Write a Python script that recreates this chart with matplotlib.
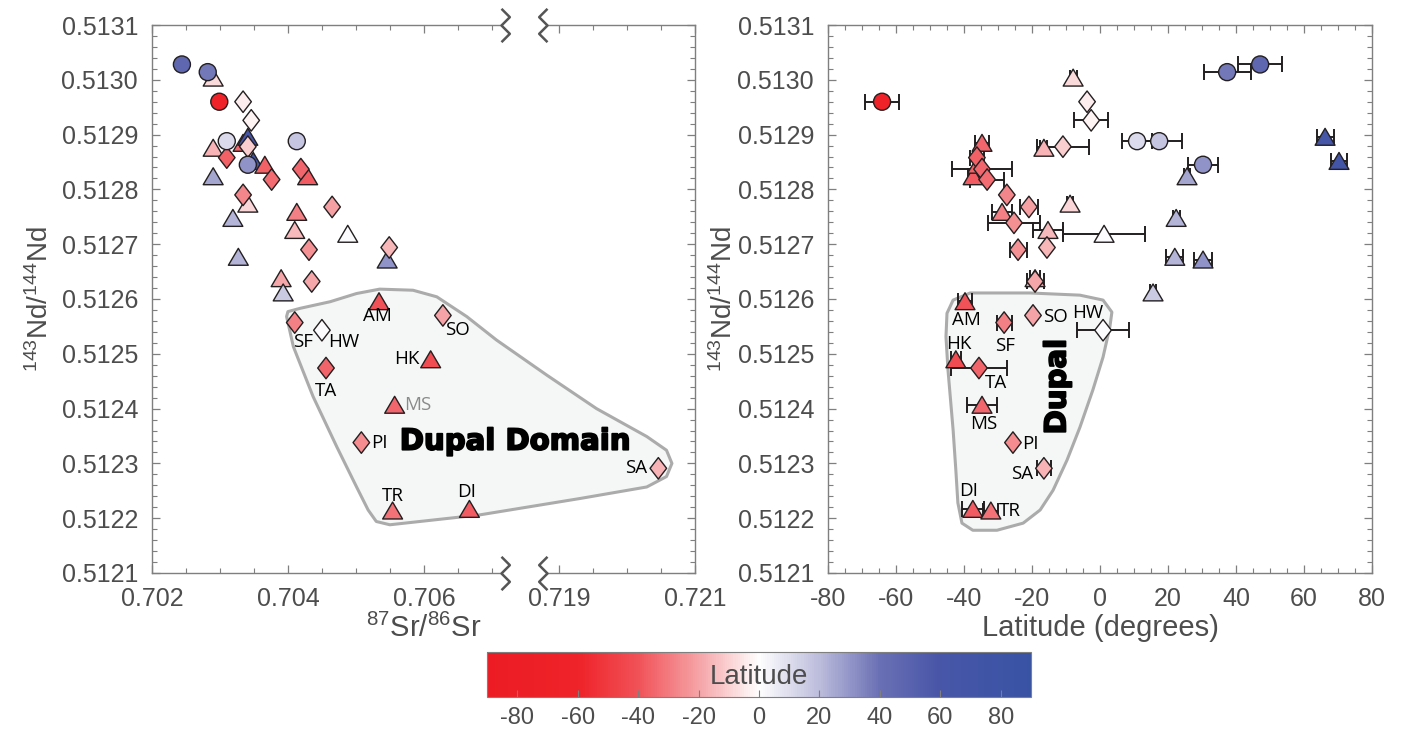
import numpy as np
import matplotlib
matplotlib.use("Agg")
import matplotlib.pyplot as plt
import matplotlib.patheffects as pe
from matplotlib.colors import LinearSegmentedColormap, Normalize
from matplotlib.cm import ScalarMappable
from matplotlib.path import Path
from matplotlib.patches import Polygon
from matplotlib.ticker import MultipleLocator, FormatStrFormatter

plt.rcParams['font.family'] = 'Liberation Sans'
plt.rcParams['mathtext.fontset'] = 'custom'
plt.rcParams['mathtext.rm'] = 'Liberation Sans'
plt.rcParams['mathtext.it'] = 'Liberation Sans:italic'
plt.rcParams['axes.unicode_minus'] = False

# --- data: latitude (deg), latitude error, 87Sr/86Sr, 143Nd/144Nd ---
circ_lat = [47.1, 37.4, -64.1, 10.9, 17.4, 30.3]
circ_err = [6.4, 6.9, 5.1, 4.4, 6.8, 4.3]
circ_sr = [0.70244, 0.70282, 0.70299, 0.70310, 0.70413, 0.70341]
circ_nd = [0.513028, 0.513014, 0.512960, 0.512888, 0.512888, 0.512845]

tri_lat = [-7.9, -34.7, -37.3, -28.8, -16.5, -8.8, -15.3, 1.2, -19.1, 15.6, 25.6,
           22.4, 22.0, 30.3, 66.2, 70.3, -36.0, -39.7, -42.4, -34.7, -37.4, -32.1]
tri_err = [1.0, 2.0, 1.5, 3.0, 1.0, 1.0, 4.4, 12.0, 1.5, 1.0, 1.0,
           1.0, 2.5, 2.6, 2.5, 2.4, 0.0, 2.0, 1.5, 4.4, 3.2, 2.2]
tri_sr = [0.70290, 0.70334, 0.70429, 0.70413, 0.70290, 0.70341, 0.70410, 0.70488, 0.70390, 0.70393, 0.70290,
          0.70319, 0.70327, 0.70546, 0.70341, 0.70349, 0.70366, 0.70534, 0.70610, 0.70557, 0.70667, 0.70554]
tri_nd = [0.513004, 0.512885, 0.512824, 0.512759, 0.512876, 0.512774, 0.512726, 0.512719, 0.512638, 0.512612, 0.512824,
          0.512748, 0.512677, 0.512672, 0.512896, 0.512852, 0.512845, 0.512596, 0.512490, 0.512407, 0.512217, 0.512214]
tri_label = [''] * 17 + ['AM', 'HK', 'MS', 'DI', 'TR']

dia_lat = [-3.8, -2.6, -10.9, -36.2, -34.7, -33.2, -27.4, -20.9, -25.3, -24.1, -15.6, -19.1,
           -28.2, -19.7, 0.9, -35.6, -25.6, -16.5]
dia_err = [0.0, 4.9, 7.6, 2.0, 8.8, 5.0, 0.0, 2.6, 7.6, 2.5, 0.0, 2.5,
           2.2, 0.0, 7.6, 8.2, 0.0, 2.0]
dia_sr = [0.70334, 0.70346, 0.70341, 0.70310, 0.70419, 0.70376, 0.70334, 0.70465, np.nan, 0.70431, 0.70549, 0.70435,
          0.70410, 0.70628, 0.70450, 0.70456, 0.70508, 0.72046]
dia_nd = [0.512960, 0.512926, 0.512878, 0.512858, 0.512837, 0.512818, 0.512790, 0.512768, 0.512739, 0.512690, 0.512694, 0.512632,
          0.512557, 0.512570, 0.512543, 0.512474, 0.512338, 0.512291]
dia_label = [''] * 12 + ['SF', 'SO', 'HW', 'TA', 'PI', 'SA']

# Dupal outline, Sr-Nd space
dupal_sr = [0.70400, 0.70418, 0.70462, 0.70501, 0.70535, 0.70584, 0.70619, 0.70663, 0.70707, 0.71882,
            0.71955, 0.72029, 0.72058, 0.72066, 0.72058, 0.72029, 0.71931, 0.70682, 0.70550, 0.70530,
            0.70518, 0.70501, 0.70472, 0.70437, 0.70408, 0.70398]
dupal_nd = [0.512577, 0.512583, 0.512595, 0.512610, 0.512618, 0.512616, 0.512604, 0.512568, 0.512525, 0.512461,
            0.512400, 0.512349, 0.512324, 0.512300, 0.512276, 0.512257, 0.512236, 0.512206, 0.512188, 0.512194,
            0.512215, 0.512257, 0.512330, 0.512422, 0.512513, 0.512568]
# Dupal outline, latitude-Nd space
dupal_lat = [-45.0, -43.2, -38.2, -20.6, -5.9, 0.9, 3.5, 2.9, 0.9, -2.1, -5.9, -9.7, -13.8, -17.6,
             -22.6, -30.3, -37.4, -40.6, -41.8, -42.4, -43.2, -44.7, -45.3]
dupal_lnd = [0.512574, 0.512598, 0.512611, 0.512611, 0.512607, 0.512598, 0.512576, 0.512549, 0.512494, 0.512434,
             0.512366, 0.512306, 0.512251, 0.512215, 0.512191, 0.512178, 0.512178, 0.512191, 0.512228, 0.512288,
             0.512361, 0.512470, 0.512531]

TEXT = '#4d4d4d'
SPINE = '#7f7f7f'
EDGE = '#231f20'

cmap = LinearSegmentedColormap.from_list('lat', [
    (0.0, '#ED1C24'), (30 / 180, '#EE2329'), (50 / 180, '#F05258'), (70 / 180, '#F5A3A6'),
    (0.5, '#FFFFFF'), (110 / 180, '#BCBCDC'), (130 / 180, '#6A70B4'), (150 / 180, '#4856A8'),
    (1.0, '#3953A4')])
norm = Normalize(-90, 90)

tv = [(0, 0.85), (-1, -0.85), (1, -0.85)]
TRI = Path(tv + [tv[0]], closed=True)
dv = [(0, 1), (0.77, 0), (0, -1), (-0.77, 0)]
DIA = Path(dv + [dv[0]], closed=True)
ZIG_L = Path([(0, 2), (1, 1), (0, 0), (1, -1), (0, -2)])
ZIG_R = Path([(0, 2), (-1, 1), (0, 0), (-1, -1), (0, -2)])

# broken Sr axis
brk_lo, brk_hi, gap = 0.70713, 0.71882, 0.00068


def fwd(x):
    x = np.asarray(x, float)
    return np.where(x <= brk_lo, x,
                    np.where(x >= brk_hi, x - (brk_hi - brk_lo) + gap,
                             brk_lo + (x - brk_lo) * gap / (brk_hi - brk_lo)))


def inv(u):
    u = np.asarray(u, float)
    return np.where(u <= brk_lo, u,
                    np.where(u >= brk_lo + gap, u + (brk_hi - brk_lo) - gap,
                             brk_lo + (u - brk_lo) * (brk_hi - brk_lo) / gap))


fig = plt.figure(figsize=(14.01, 7.29), dpi=100)
ax1 = fig.add_axes([0.1085, 0.214, 0.3876, 0.7517])
ax2 = fig.add_axes([0.591, 0.214, 0.3883, 0.7517])

nd_label = r'$^{143}\mathrm{Nd/}^{144}\mathrm{Nd}$'
heavy = [pe.withStroke(linewidth=1.3, foreground='black')]


def style_y(ax):
    ax.set_ylim(0.5121, 0.5131)
    ax.yaxis.set_major_locator(MultipleLocator(0.0001))
    ax.yaxis.set_minor_locator(MultipleLocator(0.00002))
    ax.yaxis.set_major_formatter(FormatStrFormatter('%.4f'))
    ax.tick_params(which='both', direction='in', top=True, right=True, colors=SPINE,
                   labelcolor=TEXT, labelsize=18)
    ax.tick_params(axis='y', pad=10)
    ax.tick_params(axis='x', pad=10)
    ax.tick_params(which='major', length=6, width=0.9)
    ax.tick_params(which='minor', length=3.5, width=0.8)
    for s in ax.spines.values():
        s.set_color(SPINE)
        s.set_linewidth(1.0)
    ax.set_ylabel(nd_label, fontsize=20, color=TEXT)


def draw_markers(ax, xc, xt, xd):
    ax.scatter(xt, tri_nd, s=205, c=tri_lat, cmap=cmap, norm=norm, marker=TRI,
               edgecolors=EDGE, linewidths=1.0, zorder=3)
    ax.scatter(xd, dia_nd, s=240, c=dia_lat, cmap=cmap, norm=norm, marker=DIA,
               edgecolors=EDGE, linewidths=1.0, zorder=4)
    ax.scatter(xc, circ_nd, s=150, c=circ_lat, cmap=cmap, norm=norm, marker='o',
               edgecolors=EDGE, linewidths=1.0, zorder=5)


# ---------------- left panel: Sr vs Nd ----------------
ax1.set_xscale('function', functions=(fwd, inv))
ax1.set_xlim(0.702, 0.721)
ax1.set_xticks([0.702, 0.704, 0.706, 0.719, 0.721])
ax1.set_xticklabels(['0.702', '0.704', '0.706', '0.719', '0.721'])
ax1.set_xticks([0.7025, 0.703, 0.7035, 0.7045, 0.705, 0.7055, 0.7065, 0.707,
                0.7195, 0.720, 0.7205], minor=True)
style_y(ax1)
ax1.yaxis.set_label_coords(-0.18, 0.5)
ax1.set_xlabel(r'$^{87}\mathrm{Sr/}^{86}\mathrm{Sr}$', fontsize=21, color=TEXT)
ax1.xaxis.set_label_coords(0.5, -0.075)

ax1.spines['top'].set_visible(False)
ax1.spines['bottom'].set_visible(False)
xt = ax1.get_xaxis_transform()
for yy in (0, 1):
    ax1.plot([0.702, brk_lo], [yy, yy], transform=xt, color=SPINE, lw=1.0, clip_on=False, zorder=6)
    ax1.plot([brk_hi, 0.721], [yy, yy], transform=xt, color=SPINE, lw=1.0, clip_on=False, zorder=6)
    ax1.plot([brk_lo], [yy], transform=xt, marker=ZIG_L, ms=24, mfc='none', mec='#555555',
             mew=1.8, ls='none', clip_on=False, zorder=6)
    ax1.plot([brk_hi], [yy], transform=xt, marker=ZIG_R, ms=24, mfc='none', mec='#555555',
             mew=1.8, ls='none', clip_on=False, zorder=6)

ax1.add_patch(Polygon(np.column_stack([dupal_sr, dupal_nd]), closed=True, facecolor='#F5F7F7',
                      edgecolor='#ABABAB', lw=2.2, joinstyle='round', zorder=1))
ax1.text(0.6685, 0.2396, 'Dupal Domain', transform=ax1.transAxes, ha='center', va='center',
         fontsize=21, fontweight='bold', family='DejaVu Sans', color='black', zorder=2,
         path_effects=heavy)
draw_markers(ax1, circ_sr, tri_sr, dia_sr)

left_off = {'AM': (-2, -15), 'SF': (8, -19), 'HW': (22, -12), 'SO': (15, -15), 'HK': (-24, 0),
            'TA': (0, -23), 'MS': (23, 0), 'PI': (18, 0), 'SA': (-22, 0), 'TR': (0, 15), 'DI': (-3, 17)}
right_off = {'AM': (1, -19), 'SF': (1, -23), 'SO': (22, -2), 'HW': (-15, 17), 'HK': (3, 15),
             'TA': (17, -15), 'MS': (2, -19), 'PI': (17, -1), 'SA': (-22, -6), 'DI': (-4, 18), 'TR': (19, 0)}

for labs, sr, lat, nd in ((tri_label, tri_sr, tri_lat, tri_nd), (dia_label, dia_sr, dia_lat, dia_nd)):
    for lab, s, la, n in zip(labs, sr, lat, nd):
        if not lab:
            continue
        dx, dy = left_off[lab]
        ax1.annotate(lab, (s, n), xytext=(dx * 0.72, dy * 0.72), textcoords='offset points',
                     ha='center', va='center', fontsize=13.5, family='Open Sans',
                     color='#8a8a8a' if lab == 'MS' else 'black', zorder=7)
        dx, dy = right_off[lab]
        ax2.annotate(lab, (la, n), xytext=(dx * 0.72, dy * 0.72), textcoords='offset points',
                     ha='center', va='center', fontsize=13.5, family='Open Sans', color='black', zorder=7)

# ---------------- right panel: latitude vs Nd ----------------
ax2.set_xlim(-80, 80)
ax2.xaxis.set_major_locator(MultipleLocator(20))
ax2.xaxis.set_minor_locator(MultipleLocator(5))
style_y(ax2)
ax2.yaxis.set_label_coords(-0.165, 0.5)
ax2.set_xlabel('Latitude (degrees)', fontsize=21, color=TEXT)
ax2.xaxis.set_label_coords(0.5, -0.075)

ax2.add_patch(Polygon(np.column_stack([dupal_lat, dupal_lnd]), closed=True, facecolor='#F5F7F7',
                      edgecolor='#ABABAB', lw=2.2, joinstyle='round', zorder=1))
ax2.text(-12.5, 0.51244, 'Dupal', rotation=90, ha='center', va='center', fontsize=21,
         fontweight='bold', family='DejaVu Sans', color='black', zorder=2, path_effects=heavy)

for lat, err, nd in ((circ_lat, circ_err, circ_nd), (tri_lat, tri_err, tri_nd), (dia_lat, dia_err, dia_nd)):
    lat = np.asarray(lat)
    err = np.asarray(err)
    nd = np.asarray(nd)
    m = err > 0
    ax2.errorbar(lat[m], nd[m], xerr=err[m], fmt='none', ecolor=EDGE, elinewidth=1.4,
                 capsize=6, capthick=1.4, zorder=2)
draw_markers(ax2, circ_lat, tri_lat, dia_lat)

# ---------------- colorbar ----------------
cax = fig.add_axes([0.3476, 1 - 697 / 729, 0.3883, 45 / 729])
cb = fig.colorbar(ScalarMappable(norm=norm, cmap=cmap), cax=cax, orientation='horizontal',
                  ticks=list(range(-80, 81, 20)))
cb.outline.set_edgecolor(SPINE)
cax.tick_params(direction='in', length=5, colors=SPINE, labelcolor=TEXT, labelsize=17, pad=7)
cax.text(0.5, 0.45, 'Latitude', transform=cax.transAxes, ha='center', va='center',
         fontsize=20, color=TEXT)

fig.savefig('out.png', dpi=100)
